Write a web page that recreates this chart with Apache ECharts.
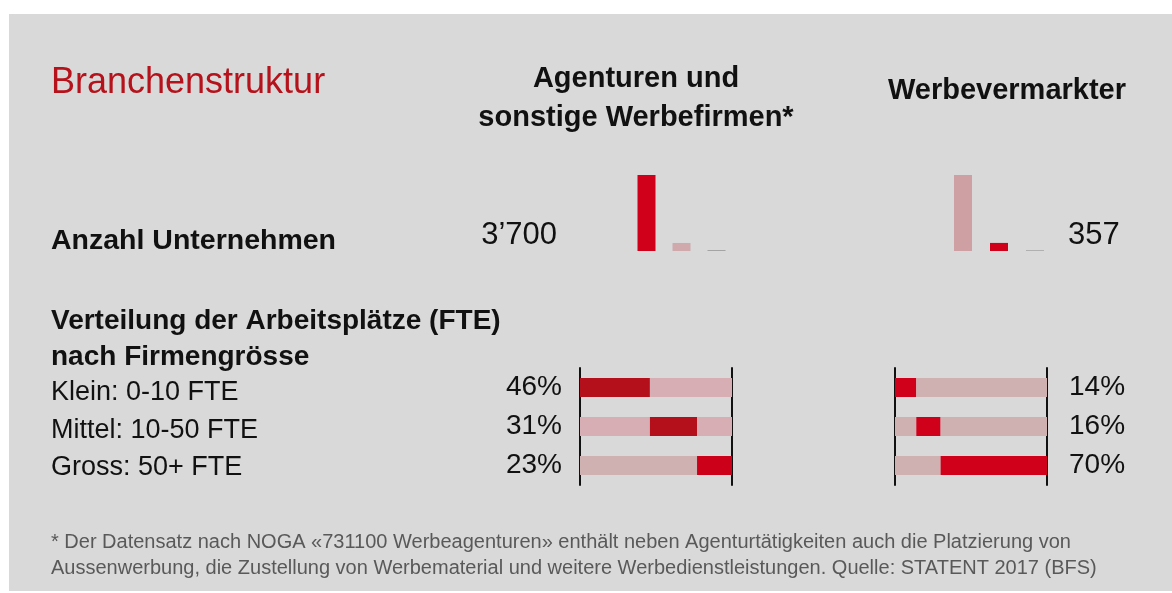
<!DOCTYPE html>
<html>
<head>
<meta charset="utf-8">
<script src="https://cdn.jsdelivr.net/npm/echarts@6/dist/echarts.min.js"></script>
<style>
  html, body { margin: 0; padding: 0; background: #fff; }
  #content { width: 1172px; height: 593px; }
</style>
</head>
<body>
<div id="content"></div>
<script>
// Daten
var groessen = ["Klein: 0-10 FTE", "Mittel: 10-50 FTE", "Gross: 50+ FTE"];
var anzahlAgenturen = 3700;
var anzahlWerbe = 357;
// Unternehmen nach Firmengrösse (geschätzt aus Balkenhöhe)
var firmenAgenturen = [3310, 350, 40];
var firmenWerbe = [320, 34, 3];
// Verteilung der Arbeitsplätze (%)
var fteAgenturen = [46, 31, 23];
var fteWerbe = [14, 16, 70];

var rot = "#d0001b";
var dunkelrot = "#b3101c";
var rosa = "#d7aeb3";
var rosa2 = "#cfb1b2";
var schrift = "Liberation Sans, Arial, sans-serif";

// kumulierte Anteile -> vor / Anteil / nach
function stapel(werte) {
    var vor = [], nach = [], summe = 0;
    for (var i = 0; i < werte.length; i++) {
        vor.push(summe);
        summe += werte[i];
        nach.push(100 - summe);
    }
    return { vor: vor, nach: nach };
}

function farbig(werte, farben) {
    return werte.map(function (v, i) {
        return { value: v, itemStyle: { color: farben[i] } };
    });
}

var stA = stapel(fteAgenturen);
var stW = stapel(fteWerbe);

function text(x, y, s, opt) {
    var st = {
        text: s,
        fontFamily: schrift,
        fontSize: opt.size || 26,
        fontWeight: opt.weight || "normal",
        fill: opt.color || "#111",
        textAlign: opt.align || "left",
        textVerticalAlign: "middle",
        lineHeight: opt.lh || 30
    };
    return { type: "text", x: x, y: y, style: st, z: 10 };
}

var myChart = echarts.init(document.getElementById("content"));

var hAxis = function (grid) {
    return { type: "value", gridIndex: grid, min: 0, max: 100, show: false };
};
var catAxis = function (grid, pos, labels, show, margin, align) {
    return {
        type: "category", gridIndex: grid, position: pos, inverse: true,
        data: groessen,
        axisLine: { show: true, lineStyle: { color: "#111", width: 2 } },
        axisTick: { show: false },
        splitLine: { show: false },
        axisLabel: {
            show: show, margin: margin, align: align,
            fontFamily: schrift, fontSize: 28, color: "#111",
            formatter: function (v, i) { return labels[i] + "%"; }
        }
    };
};

var graphics = [
    { type: "rect", shape: { x: 9, y: 14, width: 1163, height: 577 }, style: { fill: "#d9d9d9" }, z: -10 },
    text(51, 83, "Branchenstruktur", { size: 36, color: "#b5121b" }),
    text(636, 98, "Agenturen und\nsonstige Werbefirmen*", { size: 29, weight: "bold", align: "center", lh: 39 }),
    text(1007, 91, "Werbevermarkter", { size: 29, weight: "bold", align: "center" }),
    text(51, 241, "Anzahl Unternehmen", { size: 28.5, weight: "bold" }),
    text(557, 235, "3\u2019" + String(anzahlAgenturen).slice(1), { size: 31, align: "right" }),
    text(1068, 235, String(anzahlWerbe), { size: 31 }),
    text(51, 339, "Verteilung der Arbeitsplätze (FTE)\nnach Firmengrösse", { size: 28, weight: "bold", lh: 36 }),
    text(51, 555, "* Der Datensatz nach NOGA «731100 Werbeagenturen» enthält neben Agenturtätigkeiten auch die Platzierung von\nAussenwerbung, die Zustellung von Werbematerial und weitere Werbedienstleistungen. Quelle: STATENT 2017 (BFS)",
        { size: 20, color: "#595959", lh: 26 })
];
var zeilenY = [393, 431, 468];
groessen.forEach(function (g, i) {
    graphics.push(text(51, zeilenY[i], g, { size: 27 }));
});

myChart.setOption({
    animation: false,
    graphic: graphics,
    grid: [
        { left: 580, width: 152, top: 368, height: 117 },
        { left: 895, width: 152, top: 368, height: 117 },
        { left: 629, width: 105, top: 175, height: 76 },
        { left: 945, width: 108, top: 175, height: 76 }
    ],
    xAxis: [
        hAxis(0), hAxis(1),
        { type: "category", gridIndex: 2, data: groessen, show: false },
        { type: "category", gridIndex: 3, data: groessen, show: false }
    ],
    yAxis: [
        catAxis(0, "left", fteAgenturen, true, 18, "right"),
        catAxis(0, "right", fteAgenturen, false, 0, "left"),
        catAxis(1, "left", fteWerbe, false, 0, "right"),
        catAxis(1, "right", fteWerbe, true, 22, "left"),
        { type: "value", gridIndex: 2, min: 0, max: Math.max.apply(null, firmenAgenturen), show: false },
        { type: "value", gridIndex: 3, min: 0, max: Math.max.apply(null, firmenWerbe), show: false }
    ],
    series: [
        // Agenturen FTE
        { type: "bar", xAxisIndex: 0, yAxisIndex: 0, stack: "a", barWidth: 19,
          data: farbig(stA.vor, [rosa, rosa, rosa2]) },
        { type: "bar", xAxisIndex: 0, yAxisIndex: 0, stack: "a", barWidth: 19,
          data: farbig(fteAgenturen, [dunkelrot, dunkelrot, "#cc0019"]) },
        { type: "bar", xAxisIndex: 0, yAxisIndex: 0, stack: "a", barWidth: 19,
          data: farbig(stA.nach, [rosa, rosa, rosa2]) },
        // Werbevermarkter FTE
        { type: "bar", xAxisIndex: 1, yAxisIndex: 2, stack: "w", barWidth: 19,
          data: farbig(stW.vor, [rosa2, rosa2, rosa2]) },
        { type: "bar", xAxisIndex: 1, yAxisIndex: 2, stack: "w", barWidth: 19,
          data: farbig(fteWerbe, [rot, rot, rot]) },
        { type: "bar", xAxisIndex: 1, yAxisIndex: 2, stack: "w", barWidth: 19,
          data: farbig(stW.nach, [rosa2, rosa2, rosa2]) },
        // Anzahl Unternehmen
        { type: "bar", xAxisIndex: 2, yAxisIndex: 4, barWidth: 18,
          data: farbig(firmenAgenturen, [rot, "#cfa9ac", "#a0a0a0"]) },
        { type: "bar", xAxisIndex: 3, yAxisIndex: 5, barWidth: 18,
          data: farbig(firmenWerbe, ["#cfa0a3", rot, "#a0a0a0"]) }
    ]
});
</script>
</body>
</html>
